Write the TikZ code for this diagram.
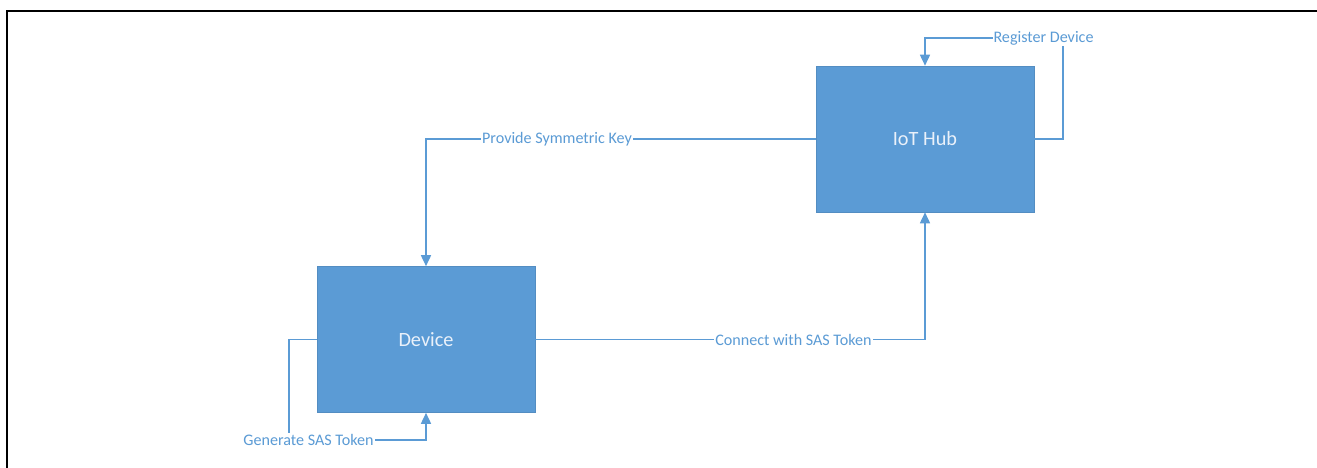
\documentclass[tikz,border=0pt]{standalone}
\usepackage{fontspec}
\setmainfont{Carlito}
\usetikzlibrary{arrows.meta}
\definecolor{boxblue}{HTML}{5B9BD5}
\definecolor{boxtext}{HTML}{EAF1FA}
\begin{document}
\begin{tikzpicture}[x=1pt,y=-1pt,
  block/.style={draw=boxblue!85!black!60!boxblue, line width=0.6pt, fill=boxblue, text=boxtext,
    minimum width=218pt, minimum height=146pt, inner sep=0pt, font=\fontsize{20.3}{23}\selectfont},
  conn/.style={draw=boxblue, line width=1.6pt, -{Triangle[length=11pt,width=10pt]}},
  lbl/.style={fill=white, text=boxblue, inner sep=1pt, font=\fontsize{16.1}{18}\selectfont}]
\useasboundingbox (0,0) rectangle (1317,468);
\draw[line width=2.2pt, black] (7,468) -- (7,11) -- (1317,11);
\node[block] (hub) at (925,139) {IoT Hub};
\node[block] (dev) at (426,339.5) {Device};
% Register Device
\coordinate (r1) at (1063,139);
\coordinate (r2) at (1063,38);
\coordinate (r3) at (925,38);
\draw[conn] (hub.east) -- (r1) -- (r2) -- (r3) -- (hub.north);
\node[lbl] (lr) at (1043.5,38) {Register Device};
% Provide Symmetric Key
\coordinate (p1) at (426,139);
\draw[conn] (hub.west) -- (p1) -- (dev.north);
\node[lbl] (lp) at (557,139) {Provide Symmetric Key};
% Connect with SAS Token
\coordinate (c1) at (925,339.5);
\draw[conn] (dev.east) -- (c1) -- (hub.south);
\node[lbl] (lc) at (793.5,339.5) {Connect with SAS Token};
% Generate SAS Token
\coordinate (g1) at (289,339.5);
\coordinate (g2) at (289,440);
\coordinate (g3) at (426,440);
\draw[conn] (dev.west) -- (g1) -- (g2) -- (g3) -- (dev.south);
\node[lbl] (lg) at (308.5,440) {Generate SAS Token};
\end{tikzpicture}
\end{document}
